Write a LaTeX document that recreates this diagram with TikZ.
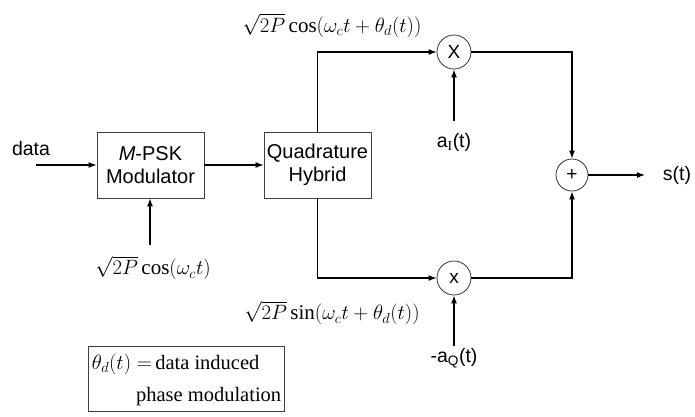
\documentclass[tikz,border=0pt]{standalone}
\usepackage{fontspec}
\setmainfont{Liberation Serif}
\setsansfont{Liberation Sans}
\usetikzlibrary{arrows.meta,calc}
\begin{document}
\begin{tikzpicture}[x=1pt,y=-1pt,
  lbl/.style={font=\sffamily\fontsize{19.5}{22}\selectfont, inner sep=0pt},
  mth/.style={font=\fontsize{21}{25}\selectfont, inner sep=0pt},
  blk/.style={draw=black!75, line width=0.8pt, minimum width=107pt, minimum height=66pt, align=center, inner sep=0pt, font=\sffamily\fontsize{20}{23}\selectfont},
  circ/.style={draw=black!80, line width=0.8pt, circle, minimum size=34pt, inner sep=0pt, font=\sffamily\fontsize{19}{22}\selectfont},
  conn/.style={line width=1.2pt, -{Latex[length=8pt,width=6pt]}},
  notetxt/.style={font=\fontsize{20.5}{24}\selectfont, inner sep=0pt}]
\useasboundingbox (0,0) rectangle (695,416);
% blocks
\node[blk] (mpsk) at (150.5,165) {\textit{M}-PSK\\Modulator};
\node[blk] (qh) at (317.5,165) {Quadrature\\Hybrid};
\node[circ] (m1) at (454,52) {X};
\node[circ] (m2) at (454,278) {x};
\node[circ, minimum size=32pt] (sum) at (572,175) {+};
% input
\node[lbl] (data) at (31,149) {data};
\coordinate (din) at (36,165);
\draw[conn] (din) -- (mpsk.west);
\draw[conn] (mpsk.east) -- (qh.west);
% carrier
\node[mth] (cosl) at (153,268) {$\sqrt{2P}\cos\bigl(\omega_c t\bigr)$};
\coordinate (cin) at (150,245);
\draw[conn] (cin) -- (cin |- mpsk.south);
% branches
\draw[conn] (qh.north) -- (qh.north |- m1) -- (m1.west);
\draw[conn] (qh.south) |- (m2.west);
\node[mth] (up) at (332,25.5) {$\sqrt{2P}\cos\bigl(\omega_c t+\theta_d(t)\bigr)$};
\node[mth] (dn) at (332,313) {$\sqrt{2P}\sin\bigl(\omega_c t+\theta_d(t)\bigr)$};
% data inputs
\node[lbl] (aI) at (454,142) {a$_{\mathrm{I}}$(t)};
\coordinate (aIs) at (454,121);
\draw[conn] (aIs) -- (m1.south);
\node[lbl] (aQ) at (454,358) {-a\textsubscript{Q}(t)};
\coordinate (aQs) at (454,346);
\draw[conn] (aQs) -- (m2.south);
% summation
\draw[conn] (m1.east) -| (sum.north);
\draw[conn] (m2.east) -| (sum.south);
\coordinate (sout) at (645,175);
\draw[conn] (sum.east) -- (sout);
\node[lbl] (st) at (677,175) {s(t)};
% note
\node[draw=black!75, line width=0.8pt, minimum width=196pt, minimum height=65pt, inner sep=0pt] (note) at (186,378.5) {};
\node[notetxt, anchor=west] (n1) at ($(note.west)+(4,-14)$) {$\theta_d(t)=\,$data induced};
\node[notetxt, anchor=east] (n2) at ($(note.east)+(-3,18)$) {phase modulation};
\end{tikzpicture}
\end{document}
